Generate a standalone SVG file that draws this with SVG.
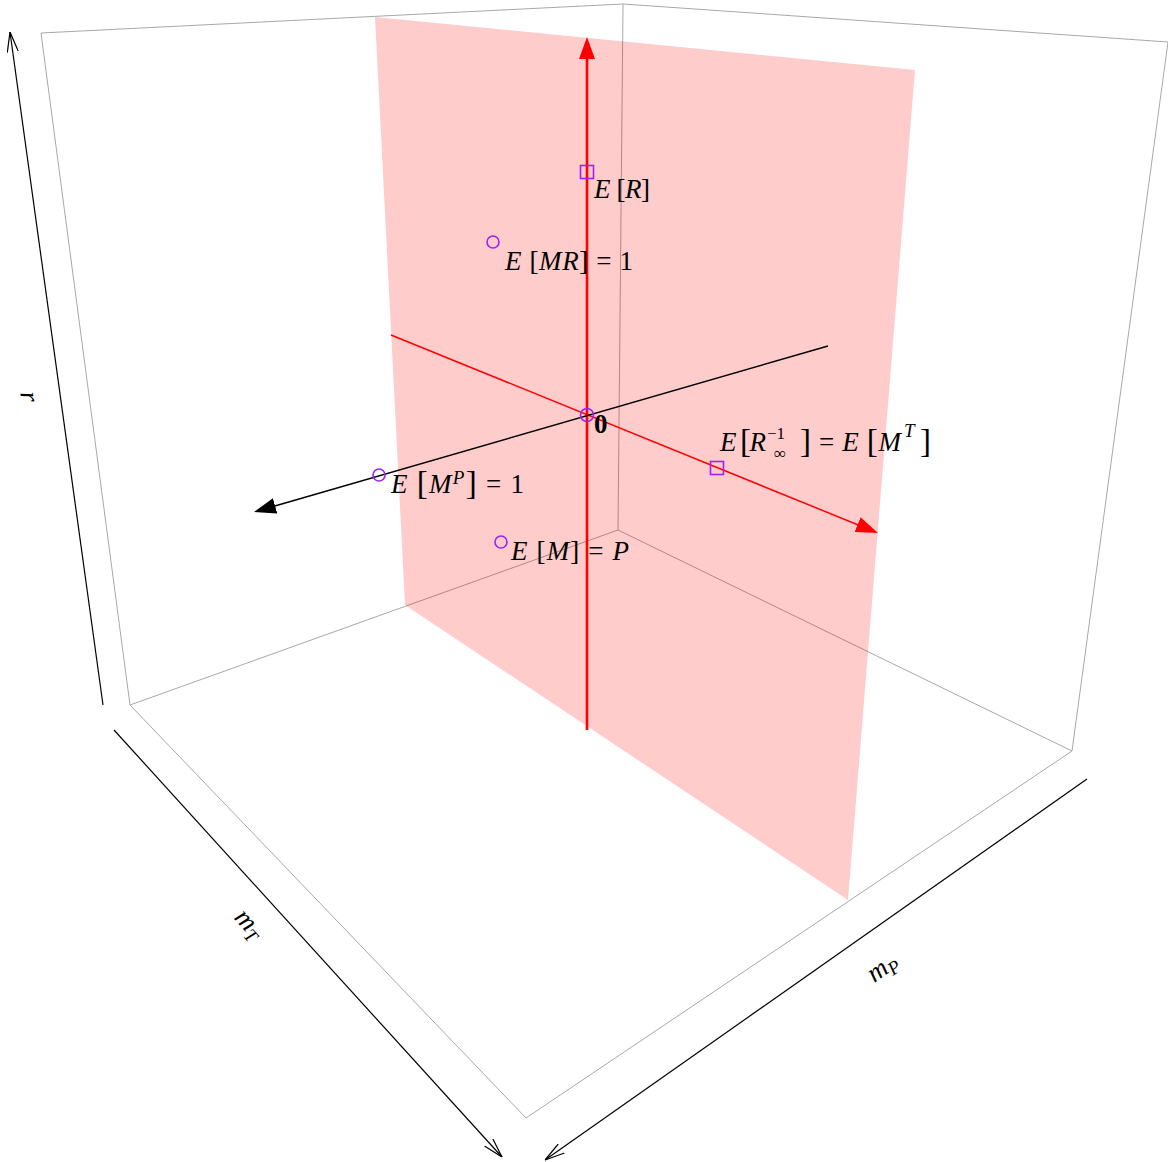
<svg xmlns="http://www.w3.org/2000/svg" width="1168" height="1162" viewBox="0 0 1168 1162">
<style>
.box{stroke:#a8a8a8;stroke-width:1;fill:none}
.ax{stroke:#000;stroke-width:1.2;fill:none}
.pt{stroke:#a020f0;stroke-width:1.6;fill:none}
.lbl{font-family:"Liberation Serif",serif;font-size:27px;fill:#000}
.it{font-style:italic}
.br{font-size:33px}
.sm{font-size:19px}
.xs{font-size:17px}
</style>
<defs>
<marker id="redhead" viewBox="0 0 22 16" refX="12" refY="8" markerWidth="22" markerHeight="16" markerUnits="userSpaceOnUse" orient="auto"><path d="M0,0 L22,8 L0,16 Z" fill="#ff0000"/></marker>
<marker id="blackhead" viewBox="0 0 22 16" refX="12" refY="8" markerWidth="22" markerHeight="16" markerUnits="userSpaceOnUse" orient="auto"><path d="M0,0 L22,8 L0,16 Z" fill="#000"/></marker>
<marker id="open" viewBox="0 0 20 12" refX="20" refY="6" markerWidth="20" markerHeight="12" markerUnits="userSpaceOnUse" orient="auto"><path d="M0,0.5 L20,6 L0,11.5" fill="none" stroke="#000" stroke-width="1.2"/></marker>
</defs>
<g id="box">
<polyline class="box" points="41,33 623,4 1168,42"/>
<line class="box" x1="41" y1="33" x2="130" y2="705"/>
<line class="box" x1="623" y1="4" x2="618" y2="530"/>
<line class="box" x1="1168" y1="42" x2="1072" y2="751"/>
<polyline class="box" points="130,705 618,530 1072,751"/>
<polyline class="box" points="130,705 526,1118 1072,751"/>
</g>
<g id="plane"><polygon points="375,17 915,70 848,900 405,605" fill="#ff0000" fill-opacity="0.2"/></g>
<g id="connectors">
<line class="ax" x1="103" y1="705" x2="10" y2="32" marker-end="url(#open)"/>
<line class="ax" x1="114" y1="730" x2="502" y2="1157" marker-end="url(#open)"/>
<line class="ax" x1="1087" y1="779" x2="545" y2="1160" marker-end="url(#open)"/>
<line x1="587" y1="730" x2="587" y2="47" stroke="#ff0000" stroke-width="2.6" marker-end="url(#redhead)"/>
<line x1="391" y1="335" x2="868.7" y2="529.2" stroke="#ff0000" stroke-width="1.5" marker-end="url(#redhead)"/>
<line x1="828" y1="346" x2="263.6" y2="509.2" stroke="#000" stroke-width="1.5" marker-end="url(#blackhead)"/>
</g>
<g id="points">
<circle class="pt" cx="587" cy="415" r="6.5"/>
<rect class="pt" x="580.5" y="165.5" width="13" height="13"/>
<circle class="pt" cx="493" cy="242" r="6"/>
<circle class="pt" cx="379" cy="475" r="6"/>
<circle class="pt" cx="501" cy="542" r="6"/>
<rect class="pt" x="710.5" y="461.5" width="13" height="13"/>
</g>
<g id="labels">
<text class="lbl" x="594" y="198" textLength="56" lengthAdjust="spacing"><tspan class="it">E</tspan> [<tspan class="it">R</tspan>]</text>
<text class="lbl" x="505" y="270" textLength="128" lengthAdjust="spacing"><tspan class="it">E</tspan> [<tspan class="it">MR</tspan>] = 1</text>
<text class="lbl" x="594" y="433" font-weight="bold">0</text>
<text class="lbl" x="391" y="493" textLength="133" lengthAdjust="spacing"><tspan class="it">E</tspan> <tspan class="br" dy="1">[</tspan><tspan class="it" dy="-1">M</tspan><tspan class="it sm" dy="-9">P</tspan><tspan class="br" dy="10">]</tspan><tspan dy="-1"> = 1</tspan></text>
<text class="lbl" x="511" y="560" textLength="118" lengthAdjust="spacing"><tspan class="it">E</tspan> [<tspan class="it">M</tspan>] = <tspan class="it">P</tspan></text>
<text class="lbl" x="720" y="451" textLength="46" lengthAdjust="spacing"><tspan class="it">E</tspan> <tspan class="br" dy="1">[</tspan><tspan class="it" dy="-1">R</tspan></text>
<text class="lbl xs" x="767" y="439">−1</text>
<text class="lbl xs" x="774" y="459">∞</text>
<text class="lbl" x="800" y="451" textLength="101" lengthAdjust="spacing"><tspan class="br" dy="1">]</tspan><tspan dy="-1"> = </tspan><tspan class="it">E</tspan> <tspan class="br" dy="1">[</tspan><tspan class="it" dy="-1">M</tspan></text>
<text class="lbl it sm" x="904" y="437">T</text>
<text class="lbl br" x="920" y="452">]</text>
<text class="lbl it" transform="translate(21,398) rotate(82)" text-anchor="middle" y="0">r</text>
<text class="lbl" transform="translate(247,926) rotate(47.7)" text-anchor="middle" y="5" font-size="29"><tspan class="it">m</tspan><tspan class="it sm" dy="5">T</tspan></text>
<text class="lbl" transform="translate(884,970) rotate(-35)" text-anchor="middle" y="5" font-size="29"><tspan class="it">m</tspan><tspan class="it sm" dy="5">P</tspan></text>
</g>
</svg>
